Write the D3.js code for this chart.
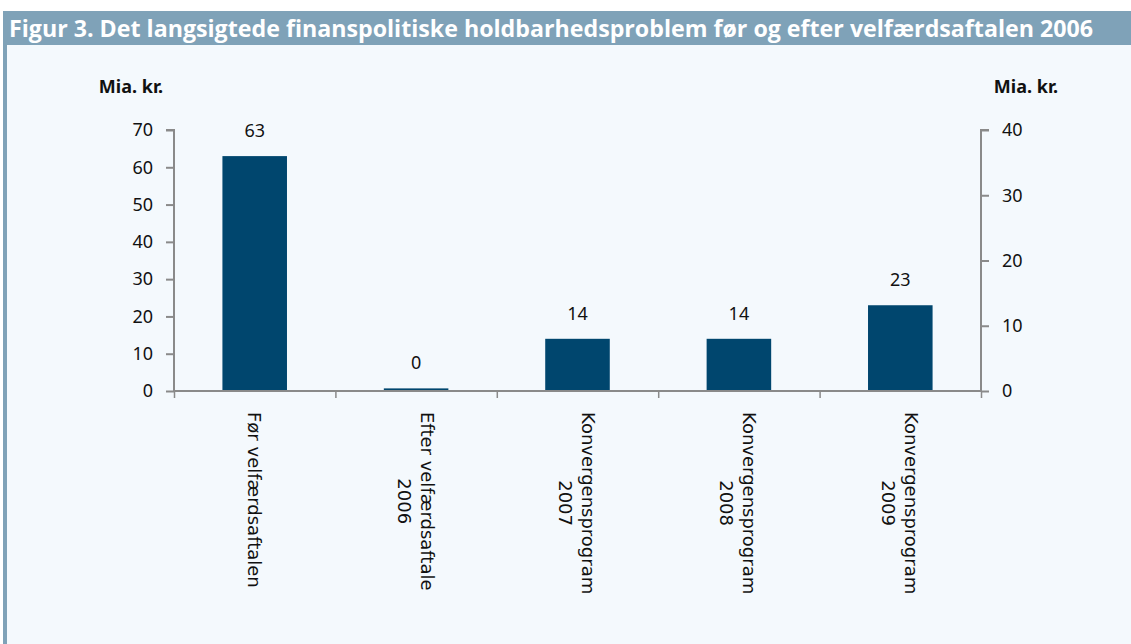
<!DOCTYPE html>
<html lang="da">
<head>
<meta charset="UTF-8">
<title>Figur 3</title>
<script src="https://d3js.org/d3.v7.min.js"></script>
<style>
  body { margin: 0; background: #ffffff; }
  svg text { font-family: "Noto Sans", "Open Sans", sans-serif; fill: #111; }
</style>
</head>
<body>
<div id="chart"></div>
<script>
// data
const categories = [
  ["Før velfærdsaftalen"],
  ["Efter velfærdsaftale", "2006"],
  ["Konvergensprogram", "2007"],
  ["Konvergensprogram", "2008"],
  ["Konvergensprogram", "2009"]
];
const values = [63, 0.7, 14, 14, 23];
const leftTicks = [0, 10, 20, 30, 40, 50, 60, 70];
const rightTicks = [0, 10, 20, 30, 40];

const W = 1131, H = 644;
const margin = {top: 130, right: 150, bottom: 253, left: 174};

const svg = d3.select("#chart").append("svg")
  .attr("width", W).attr("height", H);

// panel background + frame
svg.append("rect").attr("x", 3).attr("y", 11).attr("width", W - 3).attr("height", H - 11)
  .attr("fill", "#f4f9fd");
svg.append("rect").attr("x", 3).attr("y", 11).attr("width", W - 3).attr("height", 34)
  .attr("fill", "#7fa2b8");
svg.append("rect").attr("x", 3).attr("y", 11).attr("width", 4).attr("height", H - 11)
  .attr("fill", "#7fa2b8");
svg.append("text").attr("x", 9).attr("y", 37)
  .attr("textLength", 1084).attr("lengthAdjust", "spacingAndGlyphs")
  .style("font-family", "'Liberation Sans Narrow', 'Open Sans', sans-serif")
  .style("font-size", "23px").style("font-weight", "bold").style("fill", "#fff")
  .text("Figur 3. Det langsigtede finanspolitiske holdbarhedsproblem før og efter velfærdsaftalen 2006");

const x0 = margin.left, x1 = 981;
const yTop = margin.top, yBot = 391;

const x = d3.scaleBand().domain(d3.range(categories.length)).range([x0, x1]).paddingInner(0.6).paddingOuter(0.3);
const xEdge = d3.scaleLinear().domain([0, categories.length]).range([x0, x1]);
const yL = d3.scaleLinear().domain([0, 70]).range([yBot, yTop]);
const yR = d3.scaleLinear().domain([0, 40]).range([yBot, yTop]);

const axisColor = "#8a8a8a";

// bars
svg.selectAll(".bar").data(values).join("rect")
  .attr("class", "bar")
  .attr("x", (d, i) => x(i))
  .attr("width", x.bandwidth())
  .attr("y", d => yL(d))
  .attr("height", d => yL(0) - yL(d))
  .attr("fill", "#00466e");

// value labels
svg.selectAll(".val").data(values).join("text")
  .attr("class", "val")
  .attr("x", (d, i) => x(i) + x.bandwidth() / 2)
  .attr("y", d => yL(d) - 19)
  .attr("text-anchor", "middle")
  .style("font-size", "18px")
  .text(d => d3.format(".0f")(Math.floor(d)));

// left axis
const gL = svg.append("g").attr("transform", `translate(${x0},0)`)
  .call(d3.axisLeft(yL).tickValues(leftTicks).tickSize(8).tickPadding(13));
// right axis
const gR = svg.append("g").attr("transform", `translate(${x1},0)`)
  .call(d3.axisRight(yR).tickValues(rightTicks).tickSize(8).tickPadding(13));
[gL, gR].forEach(g => {
  g.select(".domain").attr("stroke", axisColor).attr("stroke-width", 2);
  g.selectAll(".tick line").attr("stroke", axisColor).attr("stroke-width", 2);
  g.selectAll(".tick text").style("font-size", "18px").style("font-family", "'Noto Sans', sans-serif").attr("fill", "#111");
});
gL.select(".domain").attr("d", `M-8,${yTop}H0V${yBot}`);
gR.select(".domain").attr("d", `M8,${yTop}H0V${yBot}`);

// x axis
const gX = svg.append("g").attr("transform", `translate(0,${yBot})`)
  .call(d3.axisBottom(xEdge).tickValues(d3.range(categories.length + 1)).tickSize(7).tickFormat(""));
gX.select(".domain").attr("stroke", axisColor).attr("stroke-width", 2).attr("d", `M${x0},0H${x1}`);
gX.selectAll(".tick line").attr("stroke", axisColor).attr("stroke-width", 1.5);

// rotated category labels
const lineH = 23;
categories.forEach((lines, i) => {
  const cx = x(i) + x.bandwidth() / 2 + (lines.length - 1) * lineH / 2 - 7;
  const t = svg.append("text")
    .attr("transform", `translate(${cx},412) rotate(90)`)
    .style("font-family", "'DejaVu Sans', sans-serif")
    .style("font-size", "18px");
  const spans = lines.map((s, j) => t.append("tspan").attr("dy", j === 0 ? 0 : lineH).text(s));
  const maxW = d3.max(spans, s => s.node().getComputedTextLength());
  spans.forEach(s => s.attr("x", maxW / 2).attr("text-anchor", "middle"));
});

// unit labels
svg.append("text").attr("x", 131).attr("y", 93).attr("text-anchor", "middle")
  .style("font-size", "18px").style("font-weight", "bold").text("Mia. kr.");
svg.append("text").attr("x", 1026).attr("y", 93).attr("text-anchor", "middle")
  .style("font-size", "18px").style("font-weight", "bold").text("Mia. kr.");
</script>
</body>
</html>
